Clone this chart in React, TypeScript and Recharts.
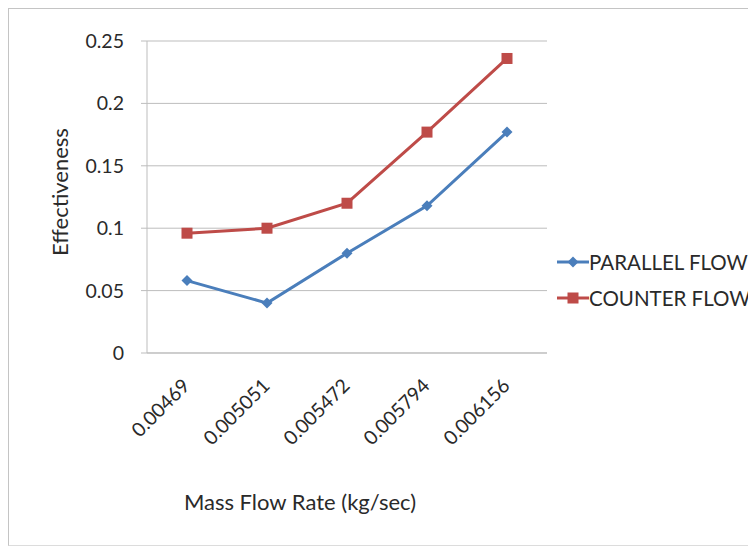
import { CartesianGrid, ComposedChart, Line, XAxis, YAxis } from "recharts";

const massFlowRates = ["0.00469", "0.005051", "0.005472", "0.005794", "0.006156"];
const parallelFlow = [0.058, 0.04, 0.08, 0.118, 0.177];
const counterFlow = [0.096, 0.1, 0.12, 0.177, 0.236];
const yTicks = [0, 0.05, 0.1, 0.15, 0.2, 0.25];
const boundaryTicks = [-0.5, 0.5, 1.5, 2.5, 3.5, 4.5];

const data = massFlowRates.map((rate, i) => ({
  rate,
  parallel: parallelFlow[i],
  counter: counterFlow[i],
}));

const BLUE = "#4a7ebb";
const RED = "#be4b48";
const GRID = "#bdbdbd";
const TEXT = "#2a2a2a";
const FONT = "Lato, 'Open Sans', sans-serif";

const series = [
  { key: "parallel", name: "PARALLEL FLOW", color: BLUE, shape: "diamond" },
  { key: "counter", name: "COUNTER FLOW", color: RED, shape: "square" },
];

function Marker({ cx, cy, color, shape }: { cx?: number; cy?: number; color: string; shape: string }) {
  if (cx == null || cy == null) return null;
  if (shape === "square") {
    return <rect x={cx - 5.5} y={cy - 5.5} width={11} height={11} fill={color} />;
  }
  return (
    <polygon
      points={`${cx},${cy - 5.5} ${cx + 5.5},${cy} ${cx},${cy + 5.5} ${cx - 5.5},${cy}`}
      fill={color}
    />
  );
}

// rotated category label, anchored at its end
function RateTick({ x, y, payload }: { x?: number; y?: number; payload?: { value: string } }) {
  if (x == null || y == null || !payload) return null;
  const ax = x + 4;
  return (
    <text
      x={ax}
      y={y}
      transform={`rotate(-45, ${ax}, ${y})`}
      textAnchor="end"
      fill={TEXT}
      fontSize={19.5}
      fontFamily={FONT}
    >
      {payload.value}
    </text>
  );
}

function ChartLegend() {
  return (
    <div style={{ position: "absolute", left: 548, top: 235 }}>
      {series.map((s) => (
        <div key={s.key} style={{ display: "flex", alignItems: "center", height: 36 }}>
          <svg width={32} height={14}>
            <line x1={0} y1={7} x2={32} y2={7} stroke={s.color} strokeWidth={3} />
            <Marker cx={16} cy={7} color={s.color} shape={s.shape} />
          </svg>
          <span style={{ fontSize: 20.5, color: TEXT, whiteSpace: "nowrap" }}>{s.name}</span>
        </div>
      ))}
    </div>
  );
}

export default function App() {
  return (
    <>
      <style>{"html, body { overflow: hidden; }"}</style>
      <div
        style={{
          position: "relative",
          width: 748,
          height: 536,
          borderTop: "1px solid #c4c4c4",
          borderLeft: "1px solid #c4c4c4",
          borderBottom: "1px solid #dcdcdc",
          background: "#fff",
          fontFamily: FONT,
          overflow: "hidden",
        }}
      >
        <ComposedChart
          width={747}
          height={536}
          data={data}
          margin={{ top: 32, right: 209, bottom: 31, left: 0 }}
          style={{ fontFamily: FONT }}
        >
          <CartesianGrid horizontal vertical={false} stroke={GRID} strokeWidth={1} />
          <XAxis
            xAxisId="bounds"
            type="number"
            domain={[-0.5, 4.5]}
            ticks={boundaryTicks}
            tick={false}
            tickSize={6}
            height={1}
            axisLine={{ stroke: GRID }}
            tickLine={{ stroke: GRID }}
          />
          <XAxis
            xAxisId="cat"
            dataKey="rate"
            scale="band"
            height={160}
            axisLine={false}
            tickLine={false}
            tickSize={6}
            tickMargin={27}
            interval={0}
            tick={<RateTick />}
            label={{
              value: "Mass Flow Rate (kg/sec)",
              position: "insideBottom",
              offset: 4,
              dx: -47,
              fill: TEXT,
              fontSize: 22,
            }}
          />
          <YAxis
            domain={[0, 0.25]}
            ticks={yTicks}
            width={138}
            tickSize={6}
            tickMargin={17}
            axisLine={{ stroke: GRID }}
            tickLine={{ stroke: GRID }}
            tick={{ fill: TEXT, fontSize: 19.5 }}
            tickFormatter={(v: number) => String(v)}
            label={{
              value: "Effectiveness",
              angle: -90,
              position: "insideLeft",
              offset: 51,
              dy: -5,
              fill: TEXT,
              fontSize: 22,
              style: { textAnchor: "middle" },
            }}
          />
          {series.map((s) => (
            <Line
              key={s.key}
              xAxisId="cat"
              dataKey={s.key}
              name={s.name}
              stroke={s.color}
              strokeWidth={3}
              dot={(props: any) => (
                <Marker key={props.index} cx={props.cx} cy={props.cy} color={s.color} shape={s.shape} />
              )}
              isAnimationActive={false}
            />
          ))}
        </ComposedChart>
        <ChartLegend />
      </div>
    </>
  );
}
